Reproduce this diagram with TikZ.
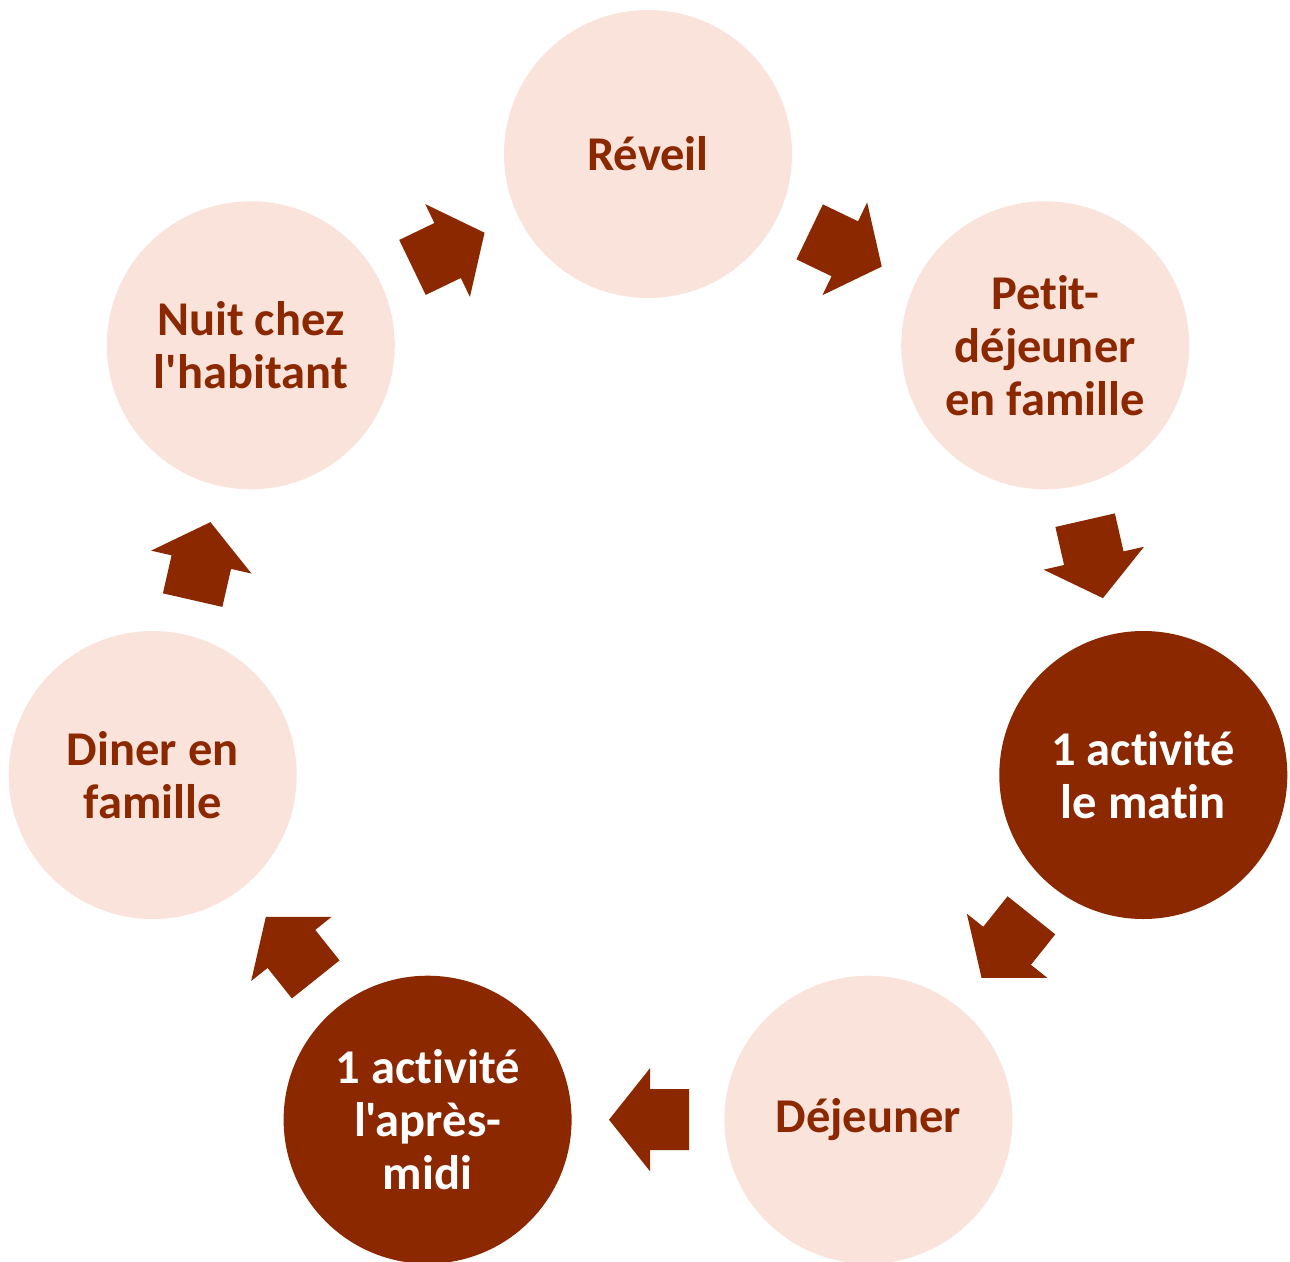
\documentclass[tikz,border=0pt]{standalone}
\usepackage{fontspec}
\newfontfamily\carlito{Carlito}[Ligatures=NoCommon]
\usetikzlibrary{calc}
\definecolor{darkrust}{RGB}{140,40,0}
\definecolor{lightpeach}{RGB}{249,227,219}
\newcommand\blockarrow[2]{%
  \pgfmathanglebetweenpoints{\pgfpointanchor{#1}{center}}{\pgfpointanchor{#2}{center}}%
  \let\arrang\pgfmathresult
  \fill[darkrust, shift={($(#1.center)!0.5!(#2.center)$)}, rotate=\arrang]
    (-41,30.5) -- (-2,30.5) -- (-2,51.5) -- (39,0) -- (-2,-51.5) -- (-2,-30.5) -- (-41,-30.5) -- cycle;
}
\begin{document}
\begin{tikzpicture}[x=1pt,y=-1pt,
  stage/.style={circle, minimum size=288pt, inner sep=0pt, align=center,
    font=\carlito\bfseries\fontsize{48.5}{53}\selectfont},
  lightstage/.style={stage, fill=lightpeach, text=darkrust},
  darkstage/.style={stage, fill=darkrust, text=white}]
\useasboundingbox (0,0) rectangle (1290,1261);
\node[lightstage] (reveil) at (648,154) {Réveil};
\node[lightstage] (petit) at (1045.2,345.3) {Petit-\\déjeuner\\en famille};
\node[darkstage] (matin) at (1143.3,775) {1 activité\\le matin};
\node[lightstage] (dejeuner) at (868.4,1119.7) {Déjeuner};
\node[darkstage] (aprem) at (427.6,1119.7) {1 activité\\l'après-\\midi};
\node[lightstage] (diner) at (152.7,775) {Diner en\\famille};
\node[lightstage] (nuit) at (250.8,345.3) {Nuit chez\\l'habitant};
\blockarrow{reveil}{petit}
\blockarrow{petit}{matin}
\blockarrow{matin}{dejeuner}
\blockarrow{dejeuner}{aprem}
\blockarrow{aprem}{diner}
\blockarrow{diner}{nuit}
\blockarrow{nuit}{reveil}
\end{tikzpicture}
\end{document}
